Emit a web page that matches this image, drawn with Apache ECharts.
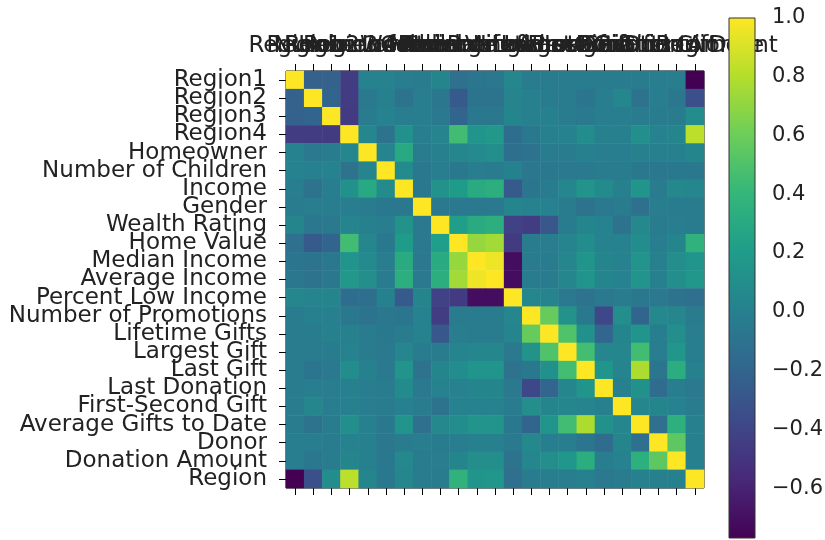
<!DOCTYPE html>
<html>
<head>
<meta charset="utf-8">
<script src="https://cdn.jsdelivr.net/npm/echarts@6/dist/echarts.min.js"></script>
<style>
  html, body { margin: 0; padding: 0; background: #fff; }
  #chart { width: 825px; height: 540px; }
</style>
</head>
<body>
<div id="chart"></div>
<script>
// Variable names, in matrix order
const variables = [
  'Region1', 'Region2', 'Region3', 'Region4', 'Homeowner', 'Number of Children',
  'Income', 'Gender', 'Wealth Rating', 'Home Value', 'Median Income',
  'Average Income', 'Percent Low Income', 'Number of Promotions', 'Lifetime Gifts',
  'Largest Gift', 'Last Gift', 'Last Donation', 'First-Second Gift',
  'Average Gifts to Date', 'Donor', 'Donation Amount', 'Region'
];

// Pairwise correlation coefficients, one row per variable
const correlations = [
  [1, -0.22, -0.22, -0.45, 0.02, 0.02, -0.02, -0.03, 0.04, -0.12, -0.08, -0.07, 0.05, -0.04, -0.04, -0.03, -0.03, -0.03, -0.03, -0.03, -0.02, -0.02, -0.77],
  [-0.22, 1, -0.2, -0.45, -0.05, 0.0, -0.1, -0.02, -0.07, -0.27, -0.09, -0.1, 0.03, 0.0, -0.03, -0.03, -0.08, -0.02, 0.05, -0.1, -0.02, -0.07, -0.33],
  [-0.22, -0.2, 1, -0.46, -0.03, 0.02, -0.02, -0.02, -0.05, -0.2, -0.06, -0.07, 0.04, 0.0, 0.0, -0.04, -0.05, -0.02, -0.02, -0.04, -0.03, -0.03, 0.09],
  [-0.45, -0.45, -0.46, 1, 0.05, -0.1, 0.12, -0.02, 0.03, 0.45, 0.15, 0.17, -0.14, -0.06, 0.0, 0.02, 0.09, 0.0, 0.0, 0.11, 0.02, 0.04, 0.82],
  [0.02, -0.05, -0.03, 0.05, 1, 0.03, 0.29, -0.03, 0.0, 0.05, 0.07, 0.1, -0.13, -0.1, -0.03, -0.03, 0.0, -0.02, -0.02, 0.0, 0.0, 0.0, 0.04],
  [0.02, 0.0, 0.02, -0.1, 0.03, 1, 0.08, -0.06, -0.02, -0.06, -0.02, -0.03, 0.01, -0.07, -0.06, -0.05, -0.05, -0.03, -0.04, -0.06, -0.07, -0.06, -0.06],
  [-0.02, -0.1, -0.02, 0.12, 0.29, 0.08, 1, -0.06, 0.13, 0.2, 0.31, 0.34, -0.27, -0.08, -0.04, 0.05, 0.14, 0.08, 0.0, 0.15, -0.03, 0.06, 0.05],
  [-0.03, -0.02, -0.02, -0.02, -0.03, -0.06, -0.06, 1, -0.05, -0.05, -0.05, -0.05, 0.04, 0.02, 0.02, -0.03, -0.1, -0.05, -0.04, -0.12, -0.02, -0.04, -0.03],
  [0.04, -0.07, -0.05, 0.03, 0.0, -0.02, 0.13, -0.05, 1, 0.21, 0.31, 0.34, -0.42, -0.45, -0.29, -0.04, 0.04, 0.02, -0.1, 0.06, -0.04, -0.02, -0.04],
  [-0.12, -0.27, -0.2, 0.45, 0.05, -0.06, 0.2, -0.05, 0.21, 1, 0.72, 0.75, -0.46, -0.03, -0.02, 0.03, 0.09, 0.02, 0.02, 0.09, -0.02, 0.04, 0.37],
  [-0.08, -0.09, -0.06, 0.15, 0.07, -0.02, 0.31, -0.05, 0.31, 0.72, 1, 0.96, -0.71, -0.03, -0.03, 0.05, 0.15, 0.04, 0.02, 0.14, 0.0, 0.1, 0.15],
  [-0.07, -0.1, -0.07, 0.17, 0.1, -0.03, 0.34, -0.05, 0.34, 0.75, 0.96, 1, -0.71, -0.04, -0.04, 0.05, 0.15, 0.04, 0.02, 0.14, 0.0, 0.1, 0.16],
  [0.05, 0.03, 0.04, -0.14, -0.13, 0.01, -0.27, 0.04, -0.42, -0.46, -0.71, -0.71, 1, 0.05, 0.03, -0.05, -0.1, -0.05, -0.04, -0.06, -0.05, -0.1, -0.12],
  [-0.04, 0.0, 0.0, -0.06, -0.1, -0.07, -0.08, 0.02, -0.45, -0.03, -0.03, -0.04, 0.05, 1, 0.58, 0.13, -0.06, -0.38, 0.1, -0.2, 0.06, 0.05, -0.03],
  [-0.04, -0.03, 0.0, 0.0, -0.03, -0.06, -0.04, 0.02, -0.29, -0.02, -0.03, -0.04, 0.03, 0.58, 1, 0.5, 0.12, -0.19, 0.04, 0.15, -0.01, 0.1, -0.02],
  [-0.03, -0.03, -0.04, 0.02, -0.03, -0.05, 0.05, -0.03, -0.04, 0.03, 0.05, 0.05, -0.05, 0.13, 0.5, 1, 0.46, 0.05, 0.05, 0.45, -0.02, 0.16, -0.02],
  [-0.03, -0.08, -0.05, 0.09, 0.0, -0.05, 0.14, -0.1, 0.04, 0.09, 0.15, 0.15, -0.1, -0.06, 0.12, 0.46, 1, 0.15, 0.03, 0.78, -0.08, 0.33, 0.0],
  [-0.03, -0.02, -0.02, 0.0, -0.02, -0.03, 0.08, -0.05, 0.02, 0.02, 0.04, 0.04, -0.05, -0.38, -0.19, 0.05, 0.15, 1, 0.0, 0.12, -0.15, -0.02, -0.05],
  [-0.03, 0.05, -0.02, 0.0, -0.02, -0.04, 0.0, -0.04, -0.1, 0.02, 0.02, 0.02, -0.04, 0.1, 0.04, 0.05, 0.03, 0.0, 1, 0.05, 0.04, 0.02, -0.03],
  [-0.03, -0.1, -0.04, 0.11, 0.0, -0.06, 0.15, -0.12, 0.06, 0.09, 0.14, 0.14, -0.06, -0.2, 0.15, 0.45, 0.78, 0.12, 0.05, 1, -0.12, 0.35, 0.0],
  [-0.02, -0.02, -0.03, 0.02, 0.0, -0.07, -0.03, -0.02, -0.04, -0.02, 0.0, 0.0, -0.05, 0.06, -0.01, -0.02, -0.08, -0.15, 0.04, -0.12, 1, 0.55, 0.0],
  [-0.02, -0.07, -0.03, 0.04, 0.0, -0.06, 0.06, -0.04, -0.02, 0.04, 0.1, 0.1, -0.1, 0.05, 0.1, 0.16, 0.33, -0.02, 0.02, 0.35, 0.55, 1, 0.0],
  [-0.77, -0.33, 0.09, 0.82, 0.04, -0.06, 0.05, -0.03, -0.04, 0.37, 0.15, 0.16, -0.12, -0.03, -0.02, -0.02, 0.0, -0.05, -0.03, 0.0, 0.0, 0.0, 1]
];

// Colour scale range and colorbar tick values
const scaleMin = -0.77;
const scaleMax = 1.0;
const colorbarTicks = [-0.6, -0.4, -0.2, 0.0, 0.2, 0.4, 0.6, 0.8, 1.0];

// Viridis palette, evenly spaced stops
const viridis = ['#440154', '#482878', '#3e4989', '#31688e', '#26828e',
                 '#1f9e89', '#35b779', '#6ece58', '#b5de2b', '#fde725'];

const cells = [];
correlations.forEach((row, i) => {
  row.forEach((v, j) => cells.push([j, i, v]));
});

const FONT = 'DejaVu Sans';
const TEXT = '#222';
const FS = 23;

const chart = echarts.init(document.getElementById('chart'), null, { renderer: 'canvas' });

chart.setOption({
  backgroundColor: '#fff',
  animation: false,
  textStyle: { fontFamily: FONT },
  grid: [
    { left: 286, top: 71, width: 418, height: 417, show: true, borderColor: '#000', borderWidth: 1,
      backgroundColor: 'transparent', containLabel: false, outerBoundsMode: 'none' },
    { left: 729, top: 18, width: 26, height: 520, show: false, containLabel: false, outerBoundsMode: 'none' }
  ],
  visualMap: {
    show: false,
    type: 'continuous',
    seriesIndex: 0,
    dimension: 2,
    min: scaleMin,
    max: scaleMax,
    inRange: { color: viridis }
  },
  xAxis: [
    {
      type: 'category', gridIndex: 0, position: 'top', data: variables,
      axisLine: { show: false },
      axisTick: { show: true, interval: 0, alignWithLabel: true, length: 7, lineStyle: { color: '#000' } },
      axisLabel: { interval: 0, hideOverlap: false, fontSize: FS, color: TEXT, margin: 13, fontFamily: FONT },
      splitLine: { show: false }
    },
    {
      type: 'category', gridIndex: 0, position: 'bottom', data: variables,
      axisLine: { show: false },
      axisTick: { show: true, interval: 0, alignWithLabel: true, length: 7, lineStyle: { color: '#000' } },
      axisLabel: { show: false, interval: 0 },
      splitLine: { show: false }
    },
    {
      type: 'value', gridIndex: 1, min: 0, max: 1, show: false
    }
  ],
  yAxis: [
    {
      type: 'category', gridIndex: 0, inverse: true, data: variables,
      axisLine: { show: false },
      axisTick: { show: true, interval: 0, alignWithLabel: true, length: 7, lineStyle: { color: '#000' } },
      axisLabel: { interval: 0, hideOverlap: false, fontSize: FS, color: TEXT, margin: 19, fontFamily: FONT },
      splitLine: { show: false }
    },
    {
      type: 'value', gridIndex: 1, position: 'right', min: scaleMin, max: scaleMax,
      axisLine: { show: false },
      axisTick: { show: true, length: 7, customValues: colorbarTicks, lineStyle: { color: '#000' } },
      axisLabel: {
        show: true, customValues: colorbarTicks, fontSize: 21, color: TEXT, margin: 17, fontFamily: FONT,
        formatter: v => (v < 0 ? '\u2212' : '') + Math.abs(v).toFixed(1)
      },
      splitLine: { show: false }
    }
  ],
  series: [
    {
      type: 'heatmap',
      xAxisIndex: 0,
      yAxisIndex: 0,
      data: cells,
      itemStyle: { borderWidth: 0 },
      emphasis: { disabled: true }
    },
    {
      // colorbar strip
      type: 'custom',
      xAxisIndex: 2,
      yAxisIndex: 1,
      z: 10,
      data: [[0, scaleMin, 1, scaleMax]],
      renderItem: (params, api) => {
        const top = api.coord([0, api.value(3)]);
        const bottom = api.coord([api.value(2), api.value(1)]);
        const stops = viridis.map((c, k) => ({ offset: 1 - k / (viridis.length - 1), color: c })).reverse();
        return {
          type: 'rect',
          shape: { x: top[0], y: top[1], width: bottom[0] - top[0], height: bottom[1] - top[1] },
          style: {
            fill: new echarts.graphic.LinearGradient(0, 0, 0, 1, stops),
            stroke: '#333',
            lineWidth: 1
          }
        };
      }
    }
  ]
});
</script>
</body>
</html>
